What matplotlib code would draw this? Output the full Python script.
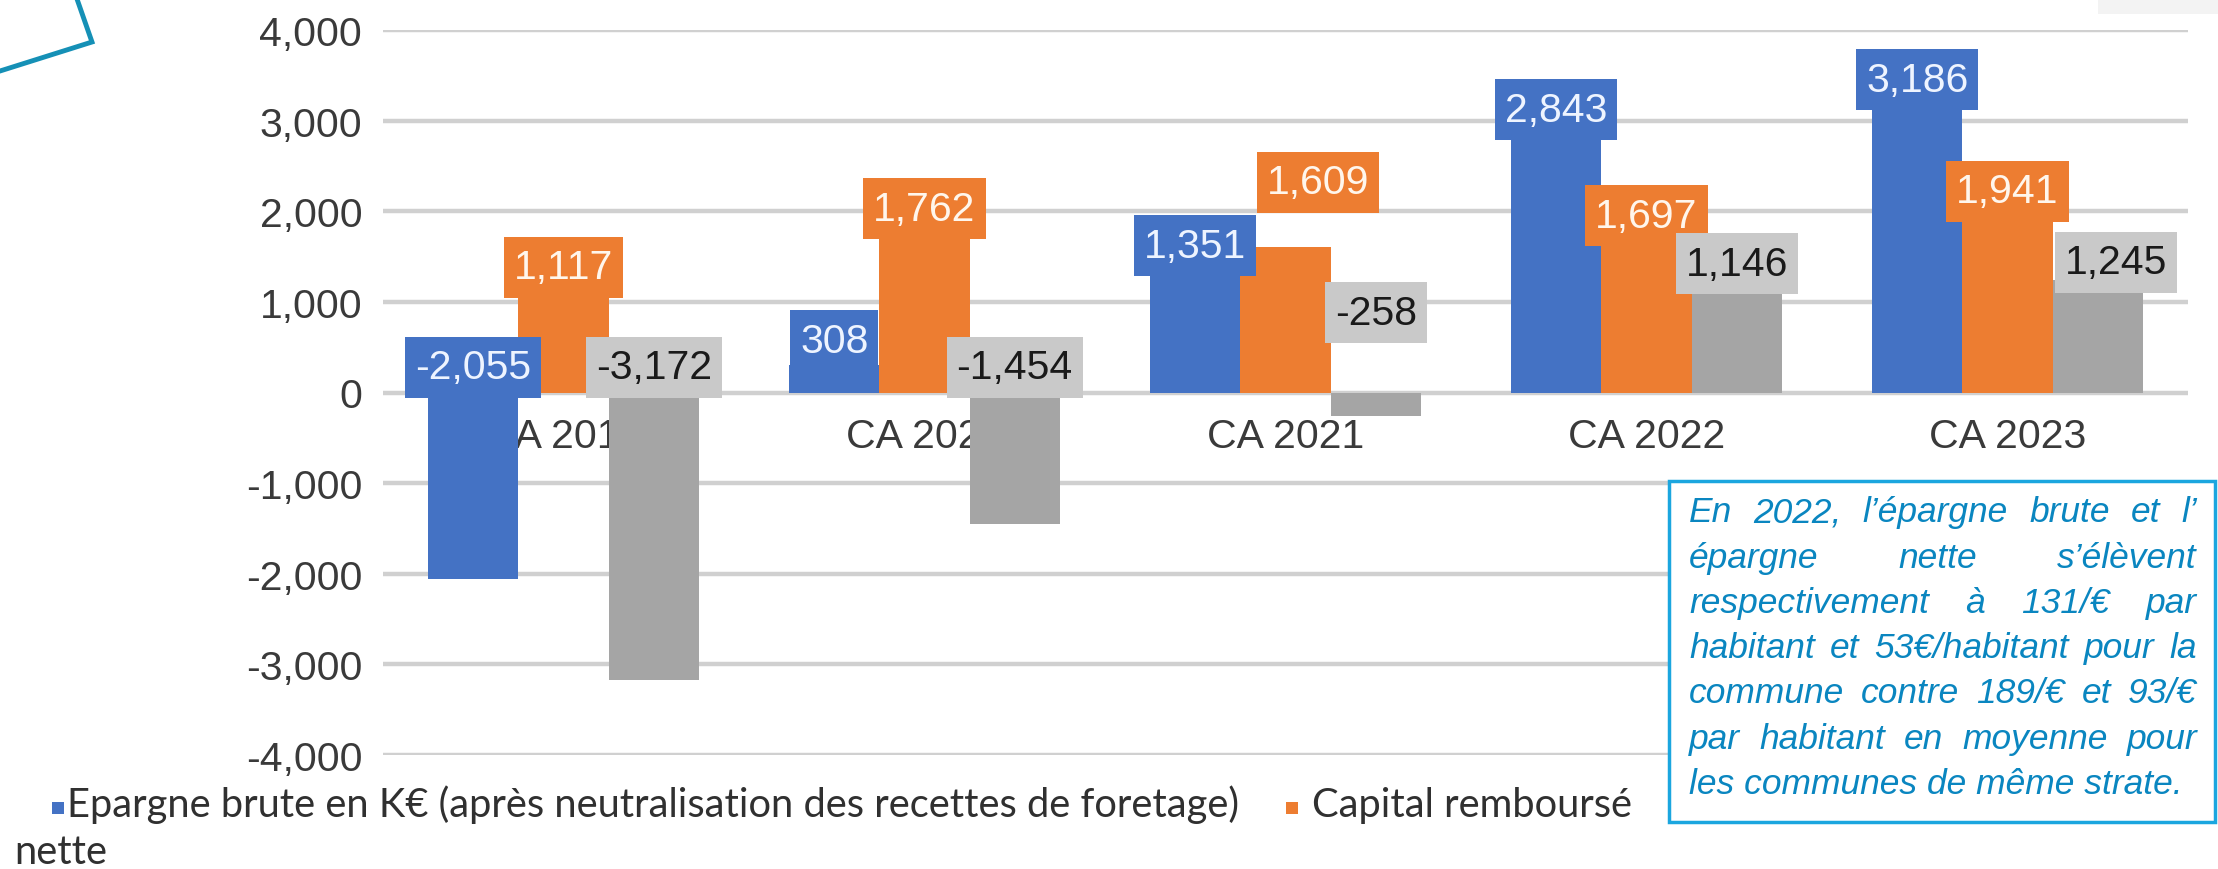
import numpy as np
import matplotlib.pyplot as plt
from matplotlib.patches import Rectangle
from matplotlib.ticker import FuncFormatter

# data (K€)
categories = ["CA 2019", "CA 2020", "CA 2021", "CA 2022", "CA 2023"]
epargne_brute = [-2055, 308, 1351, 2843, 3186]
capital_rembourse = [1117, 1762, 1609, 1697, 1941]
epargne_nette = [-3172, -1454, -258, 1146, 1245]

series_names = ["Epargne brute en K€ (après neutralisation des recettes de foretage)",
                "Capital remboursé", "Epargne"]

# where the data labels sit (the labels were moved by hand in the original)
lab_brute = [280, 570, 1620, 3120, 3450]
lab_capital = [1380, 2030, 2320, 1950, 2220]
lab_nette = [280, 280, 880, 1420, 1440]
dx_capital = [0, 0, 0.09, 0, 0]
dx_nette = [0, 0, 0, 0, 0.05]

note_lines = ["En 2022, l’épargne brute  et l’",
              "épargne nette s’élèvent",
              "respectivement à 131/€ par",
              "habitant et 53€/habitant pour la",
              "commune contre 189/€ et 93/€",
              "par habitant en moyenne pour",
              "les communes de même strate."]

blue, orange, grey = "#4472C4", "#ED7D31", "#A5A5A5"
W, H = 2218, 870

fig = plt.figure(figsize=(W / 100, H / 100), dpi=100)
ax = fig.add_axes([383 / W, 1 - 756 / H, (2188 - 383) / W, (756 - 31) / H])

x = np.arange(len(categories))
bw = 0.25
ax.bar(x - bw, epargne_brute, bw, color=blue, zorder=2)
ax.bar(x, capital_rembourse, bw, color=orange, zorder=2)
ax.bar(x + bw, epargne_nette, bw, color=grey, zorder=2)

ax.set_xlim(-0.5, len(categories) - 0.5)
ax.set_ylim(-4000, 4000)
ax.set_yticks(range(-4000, 4001, 1000))
ax.yaxis.set_major_formatter(FuncFormatter(lambda v, p: f"{int(v):,}"))
ax.set_xticks([])
ax.grid(axis="y", color="#D0D0D0", lw=3.2, zorder=0)
ax.set_axisbelow(True)
ax.tick_params(axis="y", length=0, pad=15, labelsize=29.5, labelcolor="#3A3A3A")
for t in ax.get_yticklabels():
    t.set_family("Liberation Sans")
for s in ax.spines.values():
    s.set_visible(False)

# category names sit at the zero line, behind the bars
for xi, c in zip(x, categories):
    ax.text(xi, -480, c, ha="center", va="center", fontsize=29.5,
            family="Liberation Sans", color="#3A3A3A", zorder=1)

renderer = fig.canvas.get_renderer()
to_data = ax.transData.inverted()

def put_labels(vals, ypos, dx, off, fc, tc):
    for xi, v, yp, d in zip(x, vals, ypos, dx):
        t = ax.text(xi + off + d, yp, f"{v:,}", ha="center", va="center",
                    fontsize=29.5, family="Liberation Sans", color=tc, zorder=5)
        bb = t.get_window_extent(renderer)
        cx, cy = ax.transData.transform((xi + off + d, yp))
        (x0, y0), (x1, y1) = to_data.transform([(bb.x0 - 10, cy - 30.5),
                                                (bb.x1 + 10, cy + 30.5)])
        ax.add_patch(Rectangle((x0, y0), x1 - x0, y1 - y0, fc=fc, ec="none",
                               zorder=4, clip_on=False))

put_labels(epargne_brute, lab_brute, [0] * 5, -bw, blue, "#EEF4FF")
put_labels(capital_rembourse, lab_capital, dx_capital, 0, orange, "#FFF6EC")
put_labels(epargne_nette, lab_nette, dx_nette, bw, "#C9C9C9", "#1A1A1A")

# overlay in pixel units for legend, note box and decorations
ov = fig.add_axes([0, 0, 1, 1], zorder=5)
ov.set_xlim(0, W)
ov.set_ylim(H, 0)
ov.axis("off")

ov.plot([0, 92, 77], [72, 43, 0], color="#1590B6", lw=3.5, solid_joinstyle="miter")
ov.add_patch(Rectangle((2098, 0), 120, 15, fc="#F3F3F3", ec="none"))

box_top, box_bot = 482, 823

leg_font = dict(family="Lato", fontsize=28.7, color="#303030", va="baseline")
leg_x = [(58, 67), (1292, 1312), (1912, 1928)]
for (sx, tx), col, name in zip(leg_x, [blue, orange, grey], series_names):
    ov.add_patch(Rectangle((sx - 6, 803), 12, 12, fc=col, ec="none", zorder=1))
    t = ov.text(tx, 817, name, zorder=1, **leg_font)
    if tx > 1669:
        # last entry runs under the note box, only its descenders show
        clip = Rectangle((1600, box_bot + 1), 500, 60, transform=ov.transData)
        t.set_clip_path(clip)
ov.text(14, 864, "nette", zorder=1, **leg_font)

# note box with justified text
ov.add_patch(Rectangle((1669, box_top), 2215 - 1669, box_bot - box_top, fc="white",
                       ec="#1BA6DF", lw=2.5, zorder=3))
note_font = dict(family="Liberation Sans", style="italic", fontsize=25.5,
                 color="#0A86C0", va="center", zorder=4)

def word_width(s):
    t = ov.text(0, 0, s, **note_font)
    w = t.get_window_extent(renderer).width
    t.remove()
    return w

left, right = 1689, 2197
y0, dy = 513, 45.25
for i, line in enumerate(note_lines):
    yy = y0 + i * dy
    if i == len(note_lines) - 1:
        ov.text(left, yy, line, ha="left", **note_font)
        continue
    words = line.split()
    widths = [word_width(w) for w in words]
    gap = (right - left - sum(widths)) / (len(words) - 1)
    xx = left
    for w, wd in zip(words, widths):
        ov.text(xx, yy, w, ha="left", **note_font)
        xx += wd + gap

fig.savefig("out.png", dpi=100)
